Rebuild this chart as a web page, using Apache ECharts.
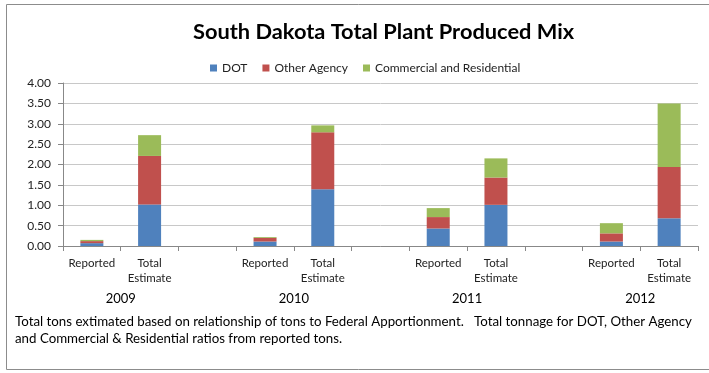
<!DOCTYPE html>
<html><head><meta charset="utf-8">
<script src="https://cdn.jsdelivr.net/npm/echarts@6/dist/echarts.min.js"></script>
<style>html,body{margin:0;padding:0;background:#fff}#c{width:709px;height:373px}</style>
</head><body><div id="c"></div>
<script>
const categories = ['Reported', 'Total\nEstimate', '', 'Reported', 'Total\nEstimate', '', 'Reported', 'Total\nEstimate', '', 'Reported', 'Total\nEstimate'];
const years = ['2009', '2010', '2011', '2012'];
const yearPositions = [1, 4, 7, 10];
const dot = [0.07, 1.02, null, 0.11, 1.39, null, 0.43, 1.01, null, 0.11, 0.68];
const otherAgency = [0.05, 1.19, null, 0.09, 1.40, null, 0.28, 0.67, null, 0.20, 1.26];
const commercial = [0.03, 0.51, null, 0.02, 0.17, null, 0.22, 0.47, null, 0.25, 1.56];
const seriesNames = ['DOT', 'Other Agency', 'Commercial and Residential'];
const yTicks = ['0.00','0.50','1.00','1.50','2.00','2.50','3.00','3.50','4.00'];
const noteLines = ['Total tons extimated based on relationship of tons to Federal Apportionment.   Total tonnage for DOT, Other Agency', 'and Commercial & Residential ratios from reported tons.'];

const font = 'Lato';
const chart = echarts.init(document.getElementById('c'));
const mk = (name, data, color) => ({
  name, type: 'bar', stack: 's', data, barWidth: 23, xAxisIndex: 0,
  itemStyle: { color }, emphasis: { disabled: true }
});
chart.setOption({
  animation: false,
  textStyle: { fontFamily: font },
  title: {
    text: 'South Dakota Total Plant Produced Mix', left: 188, top: 16,
    textStyle: { fontFamily: font, fontSize: 21.8, fontWeight: 'bold', color: '#000' }
  },
  legend: {
    data: seriesNames, top: 57, left: 205, itemWidth: 7, itemHeight: 7, icon: 'rect', itemGap: 15,
    textStyle: { fontFamily: font, fontSize: 12, color: '#222' }
  },
  grid: { left: 63, right: 11, top: 83, bottom: 127, containLabel: false },
  xAxis: [{
    type: 'category', data: categories,
    axisLine: { lineStyle: { color: '#888' } },
    axisTick: { show: true, alignWithLabel: false, interval: 0, lineStyle: { color: '#888' }, length: 5 },
    axisLabel: { interval: 0, fontFamily: font, fontSize: 11.5, color: '#222', lineHeight: 15, margin: 10 }
  }, {
    type: 'value', position: 'bottom', min: 0, max: 11, interval: 1, offset: 38,
    axisLine: { show: false }, axisTick: { show: false }, splitLine: { show: false },
    axisLabel: { fontFamily: font, fontSize: 13, color: '#000', showMinLabel: true, showMaxLabel: true,
      formatter: v => { const i = yearPositions.indexOf(v); return i >= 0 ? years[i] : ''; } }
  }],
  yAxis: {
    type: 'value', min: 0, max: 4, interval: 0.5,
    axisLine: { show: true, lineStyle: { color: '#888' } },
    axisTick: { show: true, length: 5, lineStyle: { color: '#888' } },
    splitLine: { lineStyle: { color: '#c8c8c8' } },
    axisLabel: { fontFamily: font, fontSize: 12, color: '#222', margin: 12,
      formatter: v => yTicks[Math.round(v / 0.5)] }
  },
  series: [mk(seriesNames[0], dot, '#4F81BD'), mk(seriesNames[1], otherAgency, '#C0504D'), mk(seriesNames[2], commercial, '#9BBB59'),
    { type: 'scatter', xAxisIndex: 1, data: [], silent: true }],
  graphic: [
    { type: 'rect', shape: { x: 6.5, y: 4.5, width: 720, height: 365 }, style: { fill: 'none', stroke: '#8c8c8c', lineWidth: 1 }, silent: true },
    { type: 'text', left: 15, top: 313, style: { text: noteLines.join('\n'), fontFamily: font, fontSize: 13.3, lineHeight: 17, fill: '#000' } }
  ]
});
</script></body></html>
